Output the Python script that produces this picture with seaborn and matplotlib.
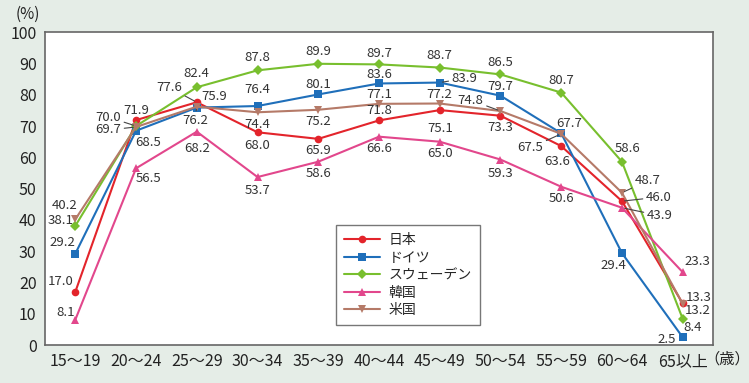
import pandas as pd
import matplotlib.pyplot as plt
import seaborn as sns

# --- data ---
ages = ["15～19", "20～24", "25～29", "30～34", "35～39", "40～44",
        "45～49", "50～54", "55～59", "60～64", "65以上"]
countries = ["日本", "ドイツ", "スウェーデン", "韓国", "米国"]
japan = [17.0, 71.9, 77.6, 68.0, 65.9, 71.8, 75.1, 73.3, 63.6, 46.0, 13.3]
germany = [29.2, 68.5, 75.9, 76.4, 80.1, 83.6, 83.9, 79.7, 67.7, 29.4, 2.5]
sweden = [38.1, 70.0, 82.4, 87.8, 89.9, 89.7, 88.7, 86.5, 80.7, 58.6, 8.4]
korea = [8.1, 56.5, 68.2, 53.7, 58.6, 66.6, 65.0, 59.3, 50.6, 43.9, 23.3]
usa = [40.2, 69.7, 76.2, 74.4, 75.2, 77.1, 77.2, 74.8, 67.5, 48.7, 13.2]

series = dict(zip(countries, [japan, germany, sweden, korea, usa]))

# styling
colors = {"日本": "#e3242b", "ドイツ": "#1f6fba", "スウェーデン": "#78bf2e",
          "韓国": "#e2478c", "米国": "#b57a68"}
markers = {"日本": "o", "ドイツ": "s", "スウェーデン": "D", "韓国": "^", "米国": "v"}

# label offsets in pixels (dx, dy) and whether a leader line is drawn
label_pos = {
    "日本": [(-15, 10), (0, 10), (-28, 15, 1), (0, -13), (0, -12), (0, 10),
           (0, -18), (0, -12), (-4, -15), (37, 4, 1), (16, 6)],
    "ドイツ": [(-13, 11), (12, -12), (17, 11), (0, 17), (0, 10), (0, 9),
            (25, 4, 1), (0, 9), (8, 10), (-9, -12), (-16, -2)],
    "スウェーデン": [(-15, 5), (-28, 9, 1), (0, 14), (0, 13), (0, 12), (0, 11),
                (0, 12), (0, 12), (0, 12), (6, 13), (10, -9)],
    "韓国": [(-10, 7), (12, -10), (0, -17), (0, -13), (0, -12), (0, -12),
           (0, -12), (0, -14), (0, -12), (38, -8, 1), (15, 11)],
    "米国": [(-11, 14), (-28, -3, 1), (-2, -14, 1), (0, -12), (0, -12), (0, 9),
           (0, 9), (-30, 11, 1), (-31, -14, 1), (26, 12, 1), (15, -7)],
}

df = pd.DataFrame([(c, a, v) for c in countries for a, v in zip(ages, series[c])],
                  columns=["country", "age", "value"])

sns.set_style("white")
plt.rcParams["font.family"] = ["Noto Sans CJK JP", "DejaVu Sans"]

fig = plt.figure(figsize=(7.49, 3.83), dpi=100)
fig.patch.set_facecolor("#e5ede7")
ax = fig.add_axes([0.060, 0.099, 0.892, 0.817])
ax.set_facecolor("white")

sns.lineplot(data=df, x="age", y="value", hue="country", style="country",
             palette=colors, markers=markers, dashes=False, sort=False,
             linewidth=1.5, markersize=5.5, markeredgewidth=0, ax=ax)

# data labels
for c in countries:
    for i, v in enumerate(series[c]):
        pos = label_pos[c][i]
        dx, dy = pos[0], pos[1]
        leader = len(pos) > 2
        ax.annotate(f"{v:.1f}", xy=(i, v), xytext=(dx, dy), textcoords="offset pixels",
                    ha="center", va="center", fontsize=9.5, color="#333333",
                    arrowprops=dict(arrowstyle="-", lw=0.8, color="#444444",
                                    shrinkA=0, shrinkB=2) if leader else None)

ax.set_xlim(-0.5, 10.5)
ax.set_ylim(0, 100)
ax.set_yticks(range(0, 101, 10))
ax.set_xlabel("")
ax.set_ylabel("")
ax.tick_params(axis="x", direction="in", length=3, pad=6, labelsize=11.5, colors="#222222")
ax.tick_params(axis="y", direction="out", length=3, pad=3, labelsize=11.5, colors="#222222")
for s in ax.spines.values():
    s.set_color("#666666")
    s.set_linewidth(1.2)

handles, labels = ax.get_legend_handles_labels()
ax.legend(handles, labels, loc="upper left", bbox_to_anchor=(0.439, 0.431),
          bbox_transform=fig.transFigure, fontsize=10, frameon=True, fancybox=False,
          edgecolor="#555555", handlelength=2.6, borderpad=0.6, labelspacing=0.25,
          handletextpad=0.6)

fig.text(0.037, 0.963, "(%)", ha="center", va="center", fontsize=11, color="#222222")
fig.text(0.971, 0.063, "（歳）", ha="center", va="center", fontsize=11, color="#222222")

plt.savefig("out.png", dpi=100, facecolor=fig.get_facecolor())
plt.close()
